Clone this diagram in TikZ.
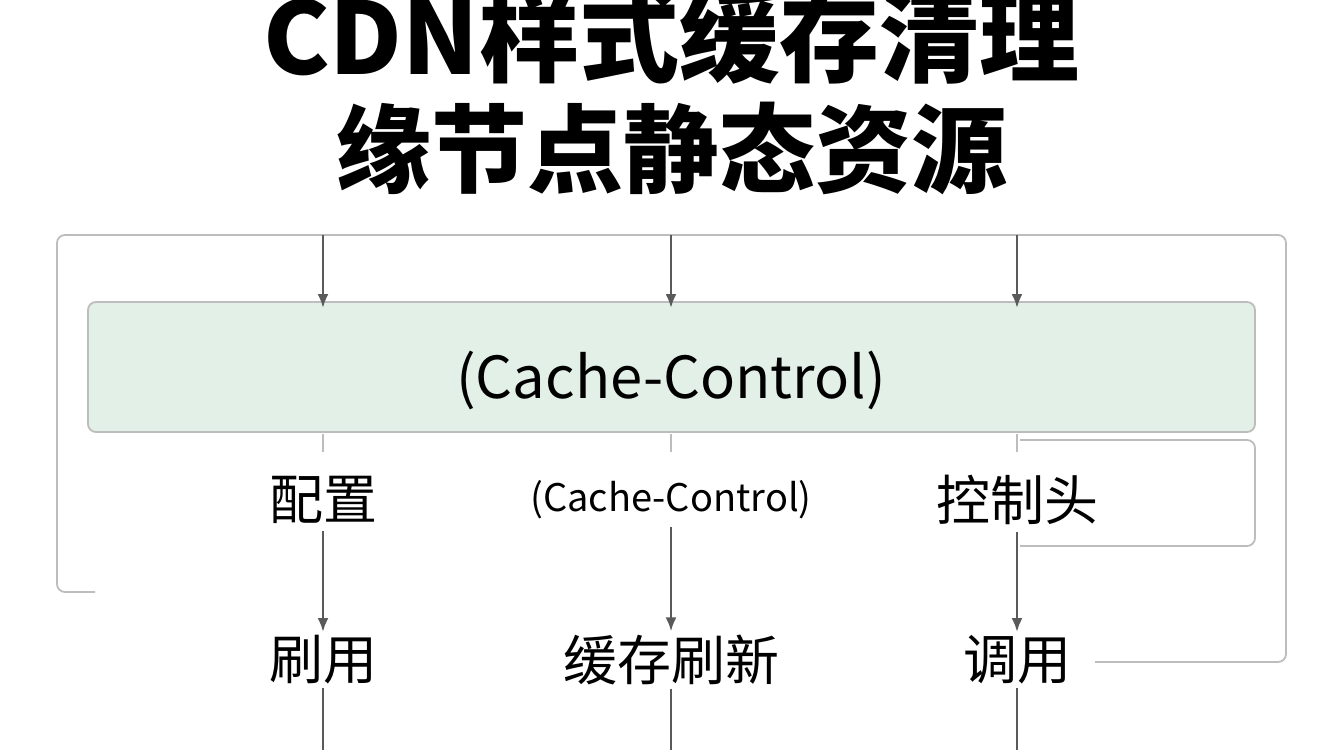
\documentclass[tikz,border=0pt]{standalone}
\usepackage{fontspec}
\newfontfamily\cjk{Noto Sans CJK SC}
\usetikzlibrary{positioning,arrows.meta}
\definecolor{bandgreen}{HTML}{E2F0E7}
\definecolor{linegray}{HTML}{5A5A5A}
\definecolor{framegray}{HTML}{BDBDBD}
\tikzset{
  flow/.style={-{Latex[length=14pt,width=11pt]}, linegray, line width=2.6pt},
  stub/.style={framegray, line width=2pt},
  frame/.style={framegray, line width=1.8pt, rounded corners=8pt},
  lbl/.style={font=\cjk\fontsize{54}{60}\selectfont, text=black},
  en/.style={font=\cjk\fontsize{38}{42}\selectfont, text=black}
}
\begin{document}
\begin{tikzpicture}[x=1pt,y=-1pt]
    \useasboundingbox[fill=white] (0,0) rectangle (1344,750);
    % title
    \node[font=\cjk\bfseries\fontsize{100}{104}\selectfont] (title1) at (671,36) {CDN样式缓存清理};
    \node[font=\cjk\bfseries\fontsize{96}{100}\selectfont] (title2) at (671,148) {缘节点静态资源};
    % frames
    \draw[frame] (95,592) -- (57,592) -- (57,235) -- (1286,235) -- (1286,662) -- (1095,662);
    \draw[frame, fill=bandgreen] (88,302) rectangle (1255,432);
    \draw[frame] (1020,440) -- (1255,440) -- (1255,546) -- (1020,546);
    \node[en, font=\cjk\fontsize{58}{62}\selectfont] (band) at (671,380) {(Cache-Control)};
    % columns
    \node[lbl] (cfg) at (323,500) {配置};
    \node[en] (cc) at (671,500) {(Cache-Control)};
    \node[lbl] (hdr) at (1017,500) {控制头};
    \node[lbl] (use1) at (323,660) {刷用};
    \node[lbl] (flush) at (671,660) {缓存刷新};
    \node[lbl] (use2) at (1017,660) {调用};
    \foreach \x/\a/\b in {323/cfg/use1, 671/cc/flush, 1017/hdr/use2} {
        \coordinate (top\x) at (\x,235);
        \coordinate (in\x) at (\x,308);
        \coordinate (bot\x) at (\x,750);
        \draw[flow] (top\x) -- (in\x);
        \draw[stub] (\x,434) -- (\x,452);
        \draw[flow] (\a.south) ++(0,4) -- (\b.north);
        \draw[flow,-] (\b.south) -- (bot\x);
    }
\end{tikzpicture}
\end{document}
